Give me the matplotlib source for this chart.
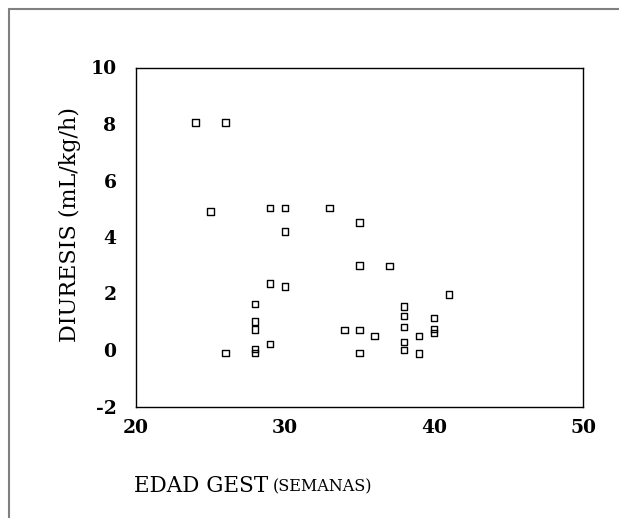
import matplotlib
matplotlib.use("Agg")
import matplotlib.pyplot as plt
from matplotlib.patches import Rectangle
from matplotlib.ticker import FuncFormatter

edad_gest = [24, 26, 25, 29, 30, 33, 35, 30, 35, 37, 41, 38, 38, 40, 38, 34, 35, 40, 40,
             36, 39, 38, 38, 35, 39, 29, 30, 28, 28, 28, 29, 28, 28, 26]
diuresis = [8.05, 8.05, 4.91, 5.02, 5.02, 5.02, 4.52, 4.19, 2.99, 2.97, 1.96, 1.54, 1.20, 1.13,
            0.81, 0.71, 0.71, 0.74, 0.60, 0.50, 0.50, 0.29, 0.0, -0.11, -0.12, 2.35, 2.25,
            1.62, 1.01, 0.72, 0.21, 0.03, -0.11, -0.10]
x_ticks = [20, 30, 40, 50]
y_ticks = [-2, 0, 2, 4, 6, 8, 10]

W, H = 619, 518
fig = plt.figure(figsize=(W / 100, H / 100), dpi=100)
fig.patches.append(Rectangle((8.5 / W, -0.2), 1.5, 1.2 - 8.5 / H, transform=fig.transFigure,
                             fill=False, edgecolor="#808080", linewidth=1.5))

ax = fig.add_axes([136 / W, 1 - 406.5 / H, (583 - 136) / W, (406.5 - 67.5) / H])
ax.scatter(edad_gest, diuresis, marker="s", s=22, facecolors="none",
           edgecolors="black", linewidths=1.0, zorder=3)
ax.set_xlim(20, 50)
ax.set_ylim(-2, 10)
ax.set_xticks(x_ticks)
ax.set_yticks(y_ticks)
fmt = FuncFormatter(lambda v, p: "%d" % v)
ax.xaxis.set_major_formatter(fmt)
ax.yaxis.set_major_formatter(fmt)
ax.tick_params(length=0, pad=14)
ax.tick_params(axis="x", pad=9)
for lab in ax.get_xticklabels() + ax.get_yticklabels():
    lab.set_fontfamily("DejaVu Serif")
    lab.set_fontweight("bold")
    lab.set_fontsize(13.5)
for s in ax.spines.values():
    s.set_linewidth(1.0)

fig.text(70 / W, 1 - 224 / H, "DIURESIS (mL/kg/h)", rotation=90, ha="center", va="center",
         fontfamily="DejaVu Serif", fontsize=16)
t1 = fig.text(134 / W, 1 - 486 / H, "EDAD GEST", ha="left", va="center",
              fontfamily="DejaVu Serif", fontsize=15.5)
fig.canvas.draw()
bb = t1.get_window_extent()
fig.text((bb.x1 + 5) / W, 1 - 487 / H, "(SEMANAS)", ha="left", va="center",
         fontfamily="DejaVu Serif", fontsize=11.5)

fig.savefig("out.png", dpi=100)
